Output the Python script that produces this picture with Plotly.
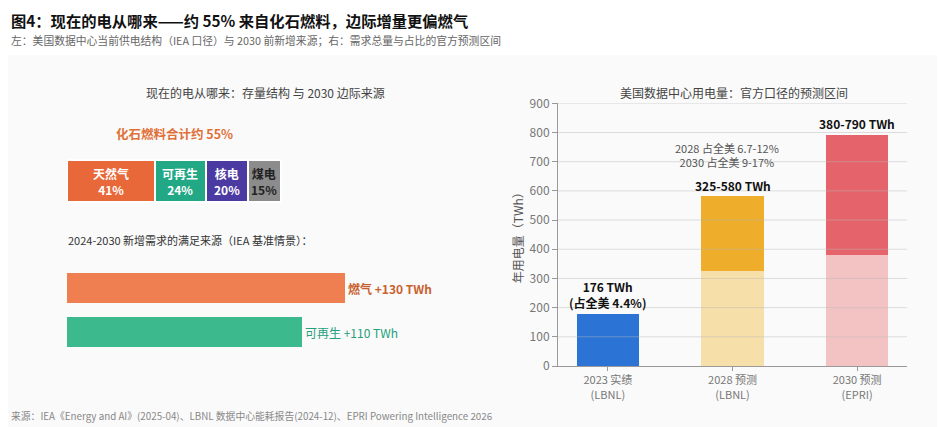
import plotly.graph_objects as go

FONT = "Noto Sans CJK SC"

# left panel: current supply mix (%) and 2024-2030 incremental sources (TWh)
mix_names = ["天然气", "可再生", "核电", "煤电"]
mix_share = [41, 24, 20, 15]
mix_colors = ["#E8683A", "#22A884", "#4B3AA2", "#8C8C8C"]
mix_text_colors = ["white", "white", "white", "#222222"]
fossil_share = 55

add_names = ["燃气", "可再生"]
add_twh = [130, 110]
add_colors = ["#EF7E50", "#3CBA8D"]
add_label_colors = ["#C9612F", "#24A07A"]
add_label_weight = ["bold", "normal"]

# right panel: US data-center electricity use (TWh)
years = ["2023 实绩<br>(LBNL)", "2028 预测<br>(LBNL)", "2030 预测<br>(EPRI)"]
low_twh = [176, 325, 380]
high_twh = [None, 580, 790]
low_colors = ["#2B74D6", "#F7DFAA", "#F3C3C3"]
range_colors = ["#EEAD2B", "#E5636A"]
y_ticks = [0, 100, 200, 300, 400, 500, 600, 700, 800, 900]

W, H = 945, 427
OFF = 8  # page margin around the plot div


def px(x):
    return (x - OFF) / W


def py(y):
    return 1 - (y - OFF) / H


# row positions of the left panel (y axis in screen-pixel units)
row_mix, row_gas, row_ren = 181, 288, 332

fig = go.Figure()

for name, val, col in zip(mix_names, mix_share, mix_colors):
    fig.add_trace(go.Bar(
        x=[val], y=[row_mix], orientation="h", width=42,
        marker=dict(color=col, line=dict(color="white", width=2)),
        name=name, hoverinfo="skip", showlegend=False,
        xaxis="x", yaxis="y"
    ))

for name, val, col, lcol, w, row in zip(add_names, add_twh, add_colors,
                                        add_label_colors, add_label_weight,
                                        [row_gas, row_ren]):
    fig.add_trace(go.Bar(
        x=[val], y=[row], orientation="h", width=30,
        marker=dict(color=col, line=dict(width=0)),
        text=[f"{name} +{val} TWh"], textposition="outside",
        textfont=dict(family=FONT, size=12, color=lcol, weight=w),
        cliponaxis=False, showlegend=False, hoverinfo="skip",
        xaxis="x", yaxis="y"
    ))

# right panel bars
fig.add_trace(go.Bar(
    x=years, y=low_twh, width=0.5,
    marker=dict(color=low_colors, line=dict(width=0)),
    showlegend=False, xaxis="x2", yaxis="y2"
))
range_x = [yr for yr, h in zip(years, high_twh) if h is not None]
range_y = [h - l for l, h in zip(low_twh, high_twh) if h is not None]
fig.add_trace(go.Bar(
    x=range_x, y=range_y, width=0.5,
    marker=dict(color=range_colors, line=dict(width=0)),
    showlegend=False, xaxis="x2", yaxis="y2"
))

ann = []
# segment labels in the stacked mix bar
cum = 0
for name, val, tc in zip(mix_names, mix_share, mix_text_colors):
    ann.append(dict(x=cum + val / 2, y=row_mix, xref="x", yref="y",
                    xanchor="center", yanchor="middle",
                    text=f"<b>{name}<br>{val}%</b>", showarrow=False,
                    font=dict(family=FONT, size=12, color=tc)))
    cum += val


def note(x, y, text, size, color, xanchor="center", bold=False):
    if bold:
        text = f"<b>{text}</b>"
    ann.append(dict(x=px(x), y=py(y), xref="paper", yref="paper",
                    xanchor=xanchor, yanchor="middle", text=text, showarrow=False,
                    font=dict(family=FONT, size=size, color=color)))


note(174, 133, f"化石燃料合计约 {fossil_share}%", 12.5, "#E07038", bold=True)
note(66, 240, "2024-2030 新增需求的满足来源（IEA 基准情景）：", 11, "#333333", "left")
note(9, 20, "图4：现在的电从哪来——约 55% 来自化石燃料，边际增量更偏燃气", 15.3, "#111111",
     "left", bold=True)
note(9, 40, "左：美国数据中心当前供电结构（IEA 口径）与 2030 前新增来源；右：需求总量与占比的官方预测区间",
     10.8, "#666666", "left")
note(265, 92, "现在的电从哪来：存量结构 与 2030 边际来源", 12, "#444444")
note(734, 92, "美国数据中心用电量：官方口径的预测区间", 12, "#444444")
note(9, 416, "来源：IEA《Energy and AI》(2025-04)、LBNL 数据中心能耗报告(2024-12)、EPRI Powering Intelligence 2026",
     9.8, "#888888", "left")

# right panel value labels
ann.append(dict(x=years[0], y=low_twh[0], xref="x2", yref="y2", yanchor="bottom", yshift=2,
                text=f"<b>{low_twh[0]} TWh<br>(占全美 4.4%)</b>", showarrow=False,
                font=dict(family=FONT, size=12, color="#111111")))
for yr, l, h in zip(years[1:], low_twh[1:], high_twh[1:]):
    ann.append(dict(x=yr, y=h, xref="x2", yref="y2", yanchor="bottom", yshift=1,
                    text=f"<b>{l}-{h} TWh</b>", showarrow=False,
                    font=dict(family=FONT, size=12, color="#111111")))
ann.append(dict(x=years[1], y=high_twh[1], xref="x2", yref="y2", yanchor="bottom",
                yshift=25, xshift=-6,
                text="2028 占全美 6.7-12%<br>2030 占全美 9-17%", showarrow=False,
                font=dict(family=FONT, size=11, color="#555555")))

shapes = [
    # light panel background under the header
    dict(type="rect", xref="paper", yref="paper", x0=0, x1=1, y0=0, y1=py(55),
         fillcolor="#FAFAFA", line=dict(width=0), layer="below"),
]
# grid lines drawn over the bars
for v in y_ticks[1:]:
    shapes.append(dict(type="line", xref="x2 domain", x0=0, x1=1, yref="y2", y0=v, y1=v,
                       layer="above", line=dict(color="rgba(185,185,185,0.45)", width=1)))

fig.update_layout(
    width=W, height=H,
    margin=dict(l=0, r=0, t=0, b=0, autoexpand=False),
    paper_bgcolor="white", plot_bgcolor="rgba(0,0,0,0)",
    barmode="stack", bargap=0,
    font=dict(family=FONT, color="#444444"),
    annotations=ann, shapes=shapes,
    xaxis=dict(domain=[px(67), px(500)], range=[0, 433 / 2.135], visible=False),
    yaxis=dict(domain=[py(360), py(100)], range=[360, 100], visible=False),
    xaxis2=dict(domain=[px(558), px(907)], range=[-0.4, 2.4], anchor="y2",
                showline=True, linecolor="#999999", ticks="outside", ticklen=4,
                tickcolor="#999999", showgrid=False,
                tickfont=dict(family=FONT, size=11, color="#777777")),
    yaxis2=dict(domain=[py(366), py(103.3)], range=[0, 900], anchor="x2",
                tickvals=y_ticks, showline=True, linecolor="#999999", ticks="outside",
                ticklen=5, tickcolor="#999999", showgrid=False, zeroline=False,
                tickfont=dict(family=FONT, size=12, color="#777777"),
                title=dict(text="年用电量（TWh）", standoff=3,
                           font=dict(family=FONT, size=12, color="#555555"))),
)

fig.write_html("out.html")
